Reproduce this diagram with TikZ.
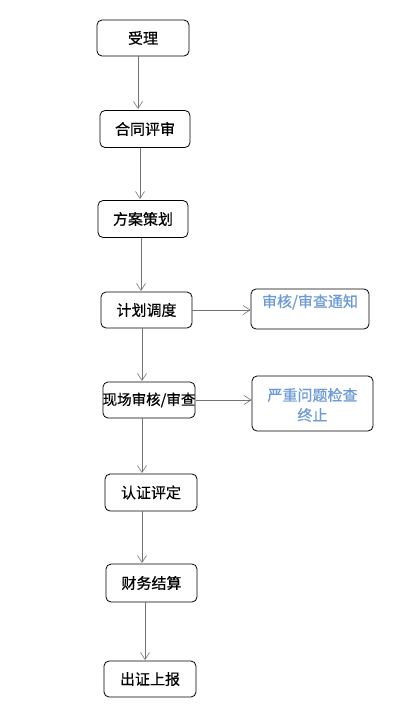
\documentclass[tikz,border=0pt]{standalone}
\usepackage{fontspec}
\newfontfamily\cjk[FakeBold=0.6]{Noto Sans CJK SC}
\usetikzlibrary{arrows.meta}
\definecolor{notice}{RGB}{108,154,214}
\tikzset{
  flowbox/.style={draw=black, rounded corners=5pt, line width=0.8pt, inner sep=0pt, font=\cjk\fontsize{15}{18}\selectfont},
  flowline/.style={draw=black!55, line width=0.7pt, -{Straight Barb[length=7pt,width=9pt,line width=0.6pt]}}
}
\begin{document}
\begin{tikzpicture}[x=1pt,y=-1pt]
\useasboundingbox (0,0) rectangle (398,712);
\node[flowbox, minimum width=92pt, minimum height=36pt] (a) at (143,38) {受理};
\node[flowbox, minimum width=90pt, minimum height=37pt] (b) at (145,129) {合同评审};
\node[flowbox, minimum width=90pt, minimum height=37pt] (c) at (143,219) {方案策划};
\node[flowbox, minimum width=91pt, minimum height=36pt] (d) at (146.5,310) {计划调度};
\node[flowbox, minimum width=92pt, minimum height=36pt] (e) at (149,400) {};
\node[font=\cjk\fontsize{14.5}{17}\selectfont, inner sep=0pt] (et) at (149,400) {现场审核/审查};
\node[flowbox, minimum width=92pt, minimum height=37pt] (f) at (151,492.5) {认证评定};
\node[flowbox, minimum width=91pt, minimum height=38pt] (g) at (151.5,583) {财务结算};
\node[flowbox, minimum width=92pt, minimum height=36pt] (h) at (150,679) {出证上报};
\node[flowbox, minimum width=118pt, minimum height=40pt] (n1) at (310,309) {};
\node[font=\cjk\fontsize{15}{18}\selectfont, text=notice, inner sep=0pt] (n1t) at (310,302) {审核/审查通知};
\node[flowbox, minimum width=121pt, minimum height=55pt] (n2) at (312.5,403.5) {};
\node[font=\cjk\fontsize{15}{20}\selectfont, text=notice, align=center, inner sep=0pt] (n2t) at (312.5,405) {严重问题检查\\终止};
\draw[flowline] (a.south -| 138,0) -- (138,109);
\draw[flowline] ([xshift=-5pt]b.south) -- (140,199);
\draw[flowline] (c.south -| 141,0) -- (141,291);
\draw[flowline] (d.south -| 142,0) -- (142,381);
\draw[flowline] (d.east) -- (n1.west |- d.east);
\draw[flowline] (e.south -| 142,0) -- (142,473);
\draw[flowline] (et.east) -- (n2.west |- et.east);
\draw[flowline] (f.south -| 142,0) -- (142,563);
\draw[flowline] (g.south -| 145,0) -- (145,660);
\end{tikzpicture}
\end{document}
